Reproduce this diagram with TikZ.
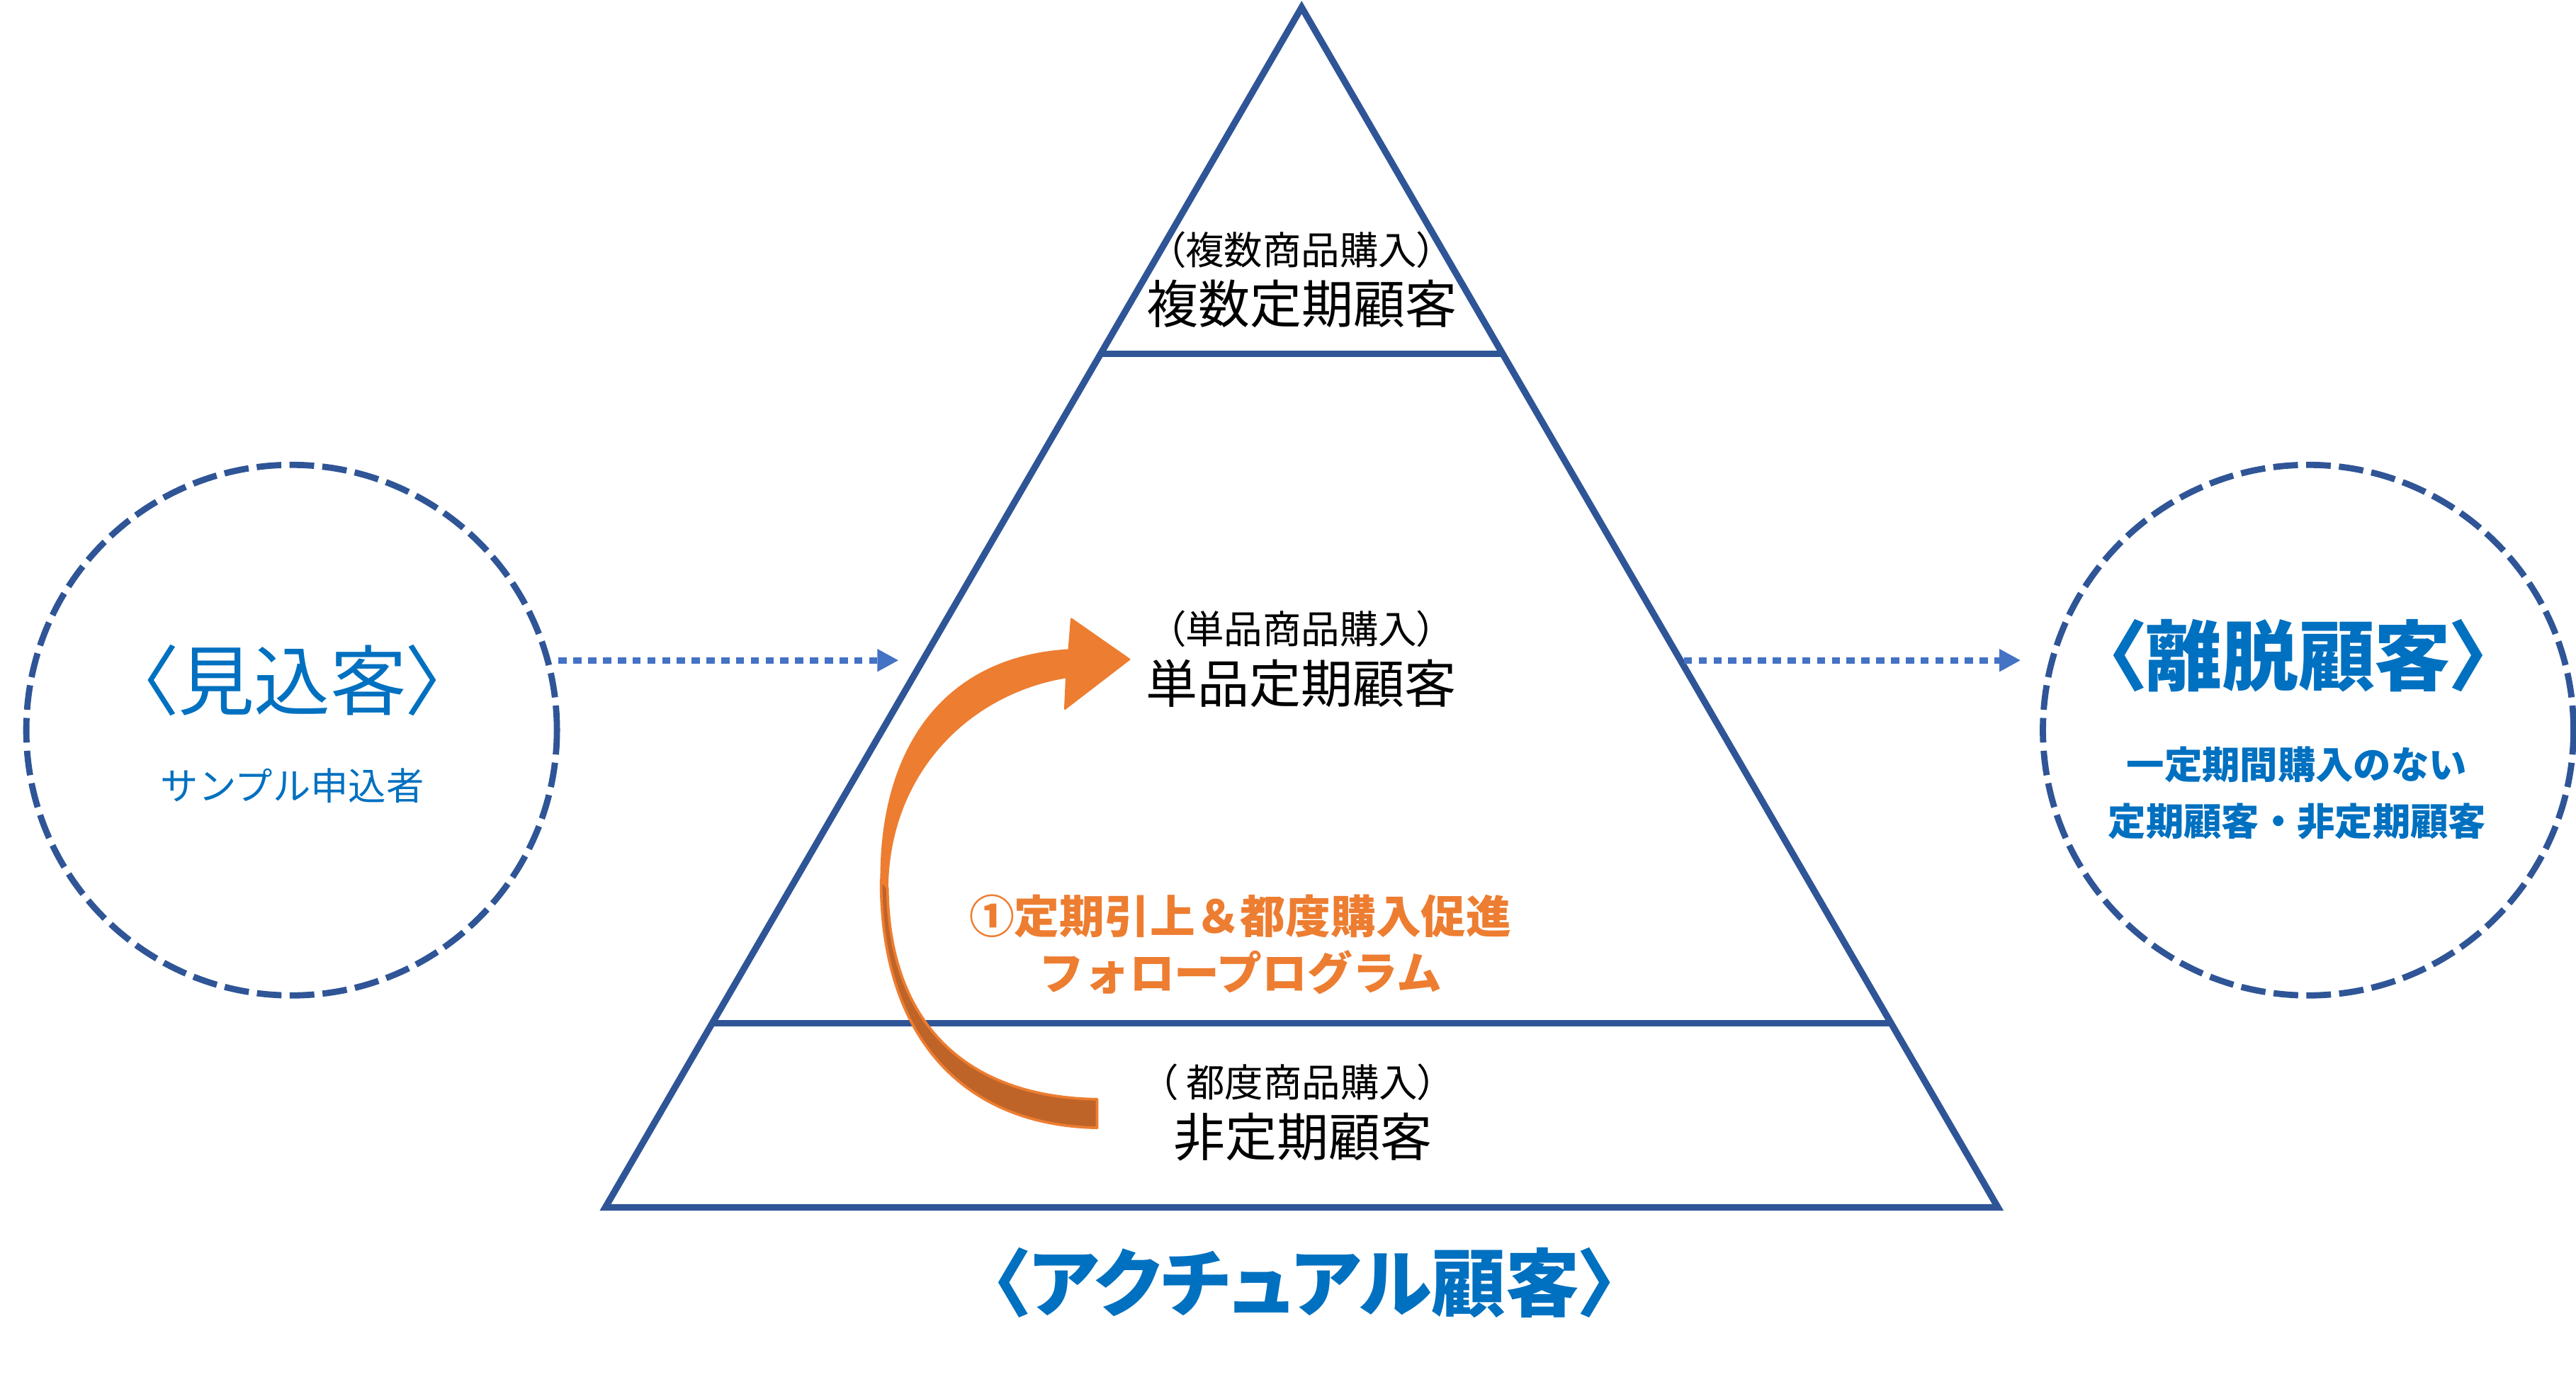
\documentclass[tikz,border=0pt]{standalone}
\usepackage{fontspec}
\newfontfamily\jp{Noto Sans CJK JP}
\newfontfamily\jpp[RawFeature=+palt]{Noto Sans CJK JP}
\usetikzlibrary{arrows.meta}
\definecolor{tri}{HTML}{2F5597}
\definecolor{dotb}{HTML}{4472C4}
\definecolor{txtb}{HTML}{0070C0}
\definecolor{orA}{HTML}{ED7D31}
\definecolor{orB}{HTML}{BF6428}
\begin{document}
\begin{tikzpicture}[x=1pt,y=-1pt,
  triline/.style={draw=tri, line width=4pt, line join=miter},
  dcirc/.style={circle, draw=tri, line width=3.8pt, dash pattern=on 15pt off 5pt, minimum size=323pt, inner sep=0pt, outer sep=0pt},
  dotarr/.style={draw=dotb, line width=4pt, dash pattern=on 5pt off 4pt, -{Triangle[length=13pt,width=13pt]}},
  lbl/.style={inner sep=0pt, outer sep=0pt, anchor=center},
  blksmall/.style={lbl, text=black, font={\jpp\fontsize{23.5pt}{28pt}\selectfont}},
  blkbig/.style={lbl, text=black, font={\jp\fontsize{31.5pt}{36pt}\selectfont}},
  bigblue/.style={lbl, text=txtb, font={\jpp\fontsize{46.5pt}{52pt}\selectfont}},
  smallblue/.style={lbl, text=txtb, font={\jp\fontsize{23pt}{28pt}\selectfont}},
  orangetxt/.style={lbl, text=orA, font={\jp\bfseries\fontsize{27.5pt}{32pt}\selectfont}}
]
\useasboundingbox (0,0) rectangle (1568,841.3);
\fill[white] (0,0) rectangle (1568,841.3);

% pyramid
\coordinate (apex) at (792.3,4.5);
\coordinate (bl) at (368.5,735);
\coordinate (br) at (1216.1,735);
\coordinate (l1a) at (670.0,215.3);
\coordinate (l1b) at (914.6,215.3);
\coordinate (l2a) at (433.5,623);
\coordinate (l2b) at (1151.1,623);
\draw[triline] (apex) -- (bl) -- (br) -- cycle;
\draw[triline] (l1a) -- (l1b);
\draw[triline] (l2a) -- (l2b);

% circles
\node[dcirc] (prospect) at (177.5,444.5) {};
\node[dcirc] (churn) at (1405,444.5) {};

% dotted arrows
\coordinate (la1) at (340,402);
\coordinate (la2) at (547,402);
\coordinate (ra1) at (1025,402);
\coordinate (ra2) at (1230,402);
\draw[dotarr] (la1) -- (la2);
\draw[dotarr] (ra1) -- (ra2);

% curved orange arrow
\fill[orA, draw=orA, line width=1pt, line join=round]
  (650.6,395.7) -- (652.1,376.7) -- (687.5,401.4) -- (648.2,431.6) -- (649.1,412.3)
  .. controls (590,422) and (541,470) .. (540.2,540.5)
  -- (536.3,535.6)
  .. controls (536,455) and (575,400) .. (650.6,395.7) -- cycle;
\fill[orB, draw=orA, line width=1.6pt, line join=round]
  (536.3,535.6) .. controls (536,630) and (585,685) .. (667.8,686.6)
  -- (667.8,669.2)
  .. controls (590,668) and (541,625) .. (540.2,540.5) -- cycle;

% pyramid texts
\node[blksmall] (t1a) at (792,152) {（複数商品購入）};
\node[blkbig] (t1b) at (792.5,185) {複数定期顧客};
\node[blksmall] (t2a) at (792,383) {（単品商品購入）};
\node[blkbig] (t2b) at (792,416) {単品定期顧客};
\node[blksmall] (t3a) at (790,659) {（ 都度商品購入）};
\node[blkbig] (t3b) at (793,692) {非定期顧客};

% orange texts
\node[orangetxt] (prog1) at (755,558) {①定期引上＆都度購入促進};
\node[orangetxt] (prog2) at (755,592) {フォロープログラム};

% blue labels
\node[bigblue] (prospectT) at (178,414) {〈見込客〉};
\node[smallblue] (prospectS) at (178,478.5) {サンプル申込者};
\node[bigblue, font={\jpp\bfseries\fontsize{46.5pt}{52pt}\selectfont}] (churnT) at (1399,399) {〈離脱顧客〉};
\node[smallblue, font={\jp\bfseries\fontsize{23pt}{28pt}\selectfont}] (churnS1) at (1398,465.5) {一定期間購入のない};
\node[smallblue, font={\jp\bfseries\fontsize{23pt}{28pt}\selectfont}] (churnS2) at (1398.3,500) {定期顧客・非定期顧客};
\node[bigblue, font={\jpp\bfseries\fontsize{45pt}{52pt}\selectfont}] (actual) at (794,781) {〈アクチュアル顧客〉};
\end{tikzpicture}
\end{document}
